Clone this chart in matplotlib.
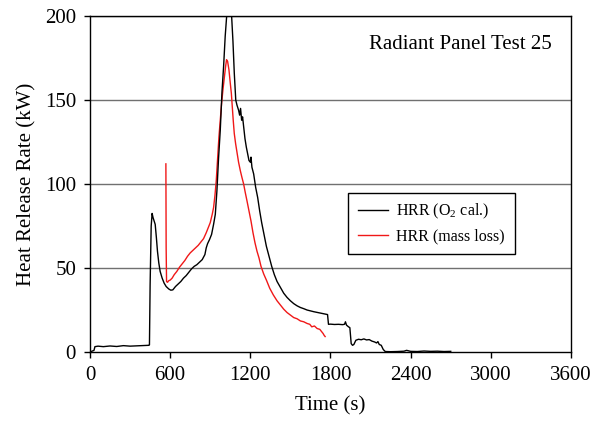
import matplotlib
matplotlib.use("Agg")
import matplotlib.pyplot as plt

plt.rcParams['font.family'] = ['Liberation Serif', 'DejaVu Serif']
plt.rcParams['mathtext.fontset'] = 'custom'
plt.rcParams['mathtext.rm'] = 'Liberation Serif'

# HRR from oxygen consumption calorimetry
t_o2 = [0, 15, 30, 37, 60, 100, 150, 200, 250, 300, 350, 400, 440,
        445, 450, 458, 465, 472, 480, 488, 497, 505, 515, 525, 540, 555,
        570, 590, 605, 620, 640, 660, 680, 700, 720, 740, 760, 780, 800,
        820, 840, 860, 870, 880, 895, 910, 925, 938, 950, 962, 975, 988,
        1000, 1012, 1023, 1035, 1042, 1050, 1060, 1070, 1080, 1091, 1100,
        1112, 1120, 1127, 1135, 1142, 1150, 1160, 1170, 1180, 1190, 1200,
        1205, 1212, 1225, 1240, 1255, 1270, 1285, 1300, 1320, 1340, 1360,
        1380, 1400, 1425, 1450, 1475, 1500, 1525, 1550, 1575, 1600, 1625,
        1650, 1675, 1700, 1725, 1750, 1778, 1785, 1800, 1830, 1860, 1890,
        1905, 1912, 1920, 1935, 1945, 1955, 1965, 1975, 1990, 2010, 2030,
        2050, 2070, 2090, 2110, 2130, 2145, 2155, 2165, 2180, 2195, 2210,
        2250, 2300, 2350, 2370, 2400, 2450, 2500, 2550, 2600, 2650, 2700]
hrr_o2 = [0, 0.5, 1, 3.2, 3.5, 3.2, 3.6, 3.3, 3.8, 3.5, 3.7, 3.9, 4.0,
          4.2, 40, 75, 82.5, 80, 78, 76, 68, 60, 53, 48, 44, 41,
          39, 37.5, 36.8, 37, 39, 40.5, 42, 44, 45.5, 47.5, 49.5, 51, 52,
          53.5, 55, 58, 62, 64.5, 67, 70, 76, 82, 96, 115, 132, 155,
          170, 188, 200, 212, 215, 210, 200, 185, 166, 150, 147,
          144, 141, 145, 138, 140, 134, 127, 122, 118, 114, 113,
          116, 110, 106, 98, 92, 84, 77, 71, 63, 57, 51,
          46, 42, 38.5, 35, 32.5, 30.5, 28.8, 27.5, 26.5, 25.8, 25,
          24.5, 24, 23.6, 23.2, 22.8, 22.3, 16.5, 16.6, 16.4, 16.5, 16.3,
          16.5, 18, 16, 15, 14.5, 5, 4, 4.5, 7, 7.6, 7.3,
          7.8, 7.2, 7.4, 6.5, 6, 5.4, 6.2, 4.5, 4, 1.5, 0.3,
          0.2, 0.3, 0.5, 1.0, 0.4, 0.3, 0.6, 0.4, 0.5, 0.3, 0.4]

# HRR from mass loss
t_ml = [568, 570, 573, 580, 590, 600, 615, 630, 650, 670, 690, 710, 730,
        750, 770, 790, 810, 830, 850, 870, 885, 900, 915, 925, 935, 945,
        955, 965, 975, 985, 995, 1005, 1015, 1022, 1030, 1040, 1050, 1058,
        1065, 1072, 1080, 1090, 1100, 1112, 1125, 1137, 1150, 1162, 1175,
        1190, 1205, 1220, 1235, 1250, 1265, 1280, 1300, 1322, 1345, 1372,
        1400, 1425, 1450, 1475, 1500, 1525, 1550, 1575, 1600, 1625, 1645,
        1660, 1680, 1700, 1720, 1735, 1745, 1752, 1760]
hrr_ml = [112, 62, 42, 41.5, 42.5, 42.8, 44, 46, 48, 50.5, 52.5, 54.5, 57,
          59, 60.5, 62, 63.5, 65.5, 67.5, 71, 74, 77, 82, 86, 93, 102,
          115, 128, 138, 148, 156, 163, 170, 174, 173, 168, 160, 154,
          146, 138, 130, 124, 119, 113, 108, 104, 100, 95, 90,
          84, 78, 71, 65, 60, 56, 51, 46.5, 42.5, 38, 34,
          30.5, 28, 25.5, 23.5, 22, 20.5, 19.8, 18.5, 18, 17, 16.5,
          15, 15.5, 14, 13.5, 12, 11, 10, 9.2]

xticks = [0, 600, 1200, 1800, 2400, 3000, 3600]
yticks = [0, 50, 100, 150, 200]

fig = plt.figure(figsize=(5.96, 4.33), dpi=100)
ax = fig.add_axes([0.151, 0.187, 0.807, 0.776])

for y in yticks[1:]:
    ax.axhline(y, color='#707070', lw=1.0, zorder=1)

ax.plot(t_o2, hrr_o2, color='black', lw=1.0, label=r'HRR (O$_\mathregular{2}$ cal.)', zorder=3)
ax.plot(t_ml, hrr_ml, color='#f01818', lw=1.0, label='HRR (mass loss)', zorder=2)

ax.set_xlim(0, 3600)
ax.set_ylim(0, 200)
ax.set_xticks(xticks)
ax.set_yticks(yticks)
ax.tick_params(direction='out', length=4, width=1, labelsize=15, pad=6)
for s in ax.spines.values():
    s.set_linewidth(1.0)

ax.set_xlabel('Time (s)', fontsize=15, labelpad=8)
ax.set_ylabel('Heat Release Rate (kW)', fontsize=15, labelpad=6)
ax.text(0.96, 0.915, 'Radiant Panel Test 25', transform=ax.transAxes,
        ha='right', va='center', fontsize=15)

leg = ax.legend(loc='center', bbox_to_anchor=(0.71, 0.383), fontsize=11.5,
                fancybox=False, framealpha=1, edgecolor='black',
                handlelength=1.9, handletextpad=0.5, borderpad=0.6,
                labelspacing=0.45, borderaxespad=0)
leg.get_frame().set_linewidth(1.0)

fig.savefig('out.png', dpi=100)
